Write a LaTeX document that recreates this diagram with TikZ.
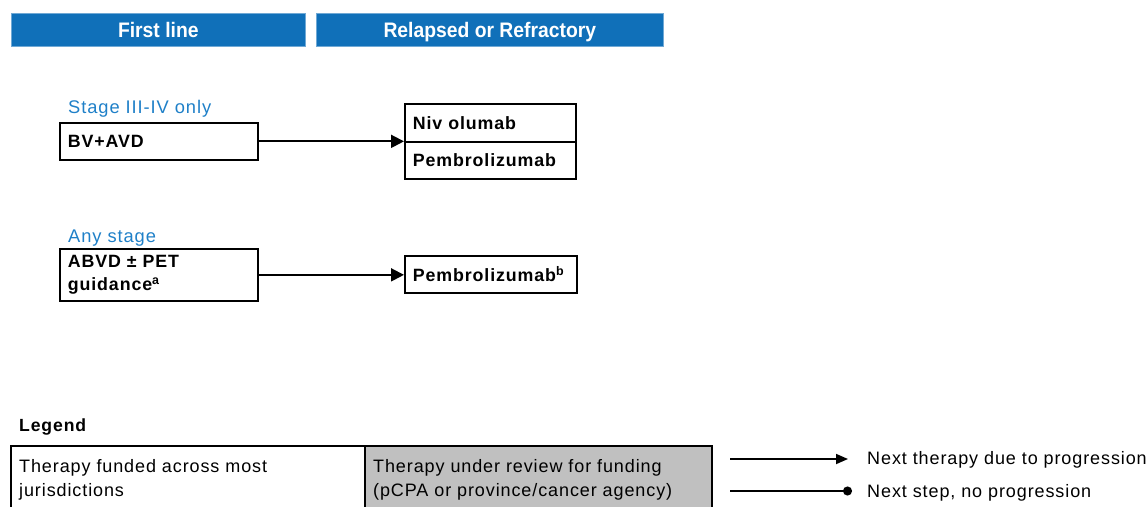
\documentclass[tikz,border=0pt]{standalone}
\usepackage{fontspec}
\setmainfont{Liberation Sans}[LetterSpace=5]
\newfontfamily\hdfont{Liberation Sans}[FakeStretch=0.92]
\usetikzlibrary{arrows.meta}
\definecolor{hdblue}{HTML}{1070B9}
\definecolor{lblblue}{HTML}{1F80C8}
\definecolor{legray}{HTML}{C0C0C0}
\tikzset{
  hd/.style={fill=hdblue, draw=hdblue!60, line width=0.6pt, text=white,
    font=\hdfont\bfseries\fontsize{21}{24}\selectfont, anchor=north west, inner sep=0pt,
    text height=19pt, text depth=3pt},
  stagelbl/.style={text=lblblue, font=\fontsize{18.3}{22}\selectfont, anchor=base west, inner sep=0pt},
  txbox/.style={draw, line width=1.7pt, font=\bfseries\fontsize{17.8}{23}\selectfont,
    align=left, inner xsep=8pt, inner ysep=0pt, anchor=north west},
  arr/.style={line width=1.9pt, -{Triangle[length=13pt,width=13pt]}},
  legarr/.style={line width=1.7pt, -{Triangle[length=12pt,width=10pt]}},
  dotarr/.style={line width=1.7pt, -{Circle[length=9pt]}},
  legtxt/.style={font=\fontsize{18}{24}\selectfont, align=left, anchor=north west, inner sep=0pt},
  keytxt/.style={font=\fontsize{18}{20}\selectfont, anchor=west, inner sep=0pt},
}
\begin{document}
\begin{tikzpicture}[x=1pt,y=-1pt]
\useasboundingbox (0,0) rectangle (1147,506);
\clip (0,0) rectangle (1147,506);

% headers
\node[hd, minimum width=294pt, minimum height=33pt] (h1) at (11,13) {First line};
\node[hd, minimum width=347pt, minimum height=33pt] (h2) at (316,13) {Relapsed or Refractory};

% row 1
\node[stagelbl] (l1) at (68,113) {Stage III-IV only};
\node[txbox, text width=182pt, minimum height=37pt] (a1) at (59,122) {BV+AVD};
\node[txbox, text width=155pt, minimum height=38pt] (r1a) at (404,103) {Niv olumab};
\node[txbox, text width=155pt, minimum height=37pt] (r1b) at (404,141) {Pembrolizumab};
\draw[arr] (a1.east) -- (a1.east -| r1b.west);

% row 2
\node[stagelbl] (l2) at (68,242) {Any stage};
\node[txbox, text width=182pt, minimum height=52pt] (a2) at (59,248) {ABVD \textpm{} PET\\guidance\textsuperscript{a}};
\node[txbox, text width=156pt, minimum height=37pt] (r2) at (404,255) {Pembrolizumab\textsuperscript{b}};
\draw[arr] (a2.east) -- (a2.east -| r2.west);

% legend
\node[font=\bfseries\fontsize{17.6}{20}\selectfont, anchor=base west, inner sep=0pt] (lg) at (19,431) {Legend};
\draw[line width=1.7pt] (11,446) rectangle (365,530);
\draw[line width=1.7pt, fill=legray] (365,446) rectangle (712,530);
\node[legtxt] (lc1) at (19,459) {Therapy funded across most\\jurisdictions};
\node[legtxt] (lc2) at (373,459) {Therapy under review for funding\\(pCPA or province/cancer agency)};

\coordinate (la1) at (730,459);
\coordinate (lb1) at (848,459);
\coordinate (la2) at (730,491);
\coordinate (lb2) at (852,491);
\draw[legarr] (la1) -- (lb1);
\draw[dotarr] (la2) -- (lb2);
\node[keytxt] (lt1) at (867,460) {Next therapy due to progression};
\node[keytxt] (lt2) at (867,493) {Next step, no progression};
\end{tikzpicture}
\end{document}
